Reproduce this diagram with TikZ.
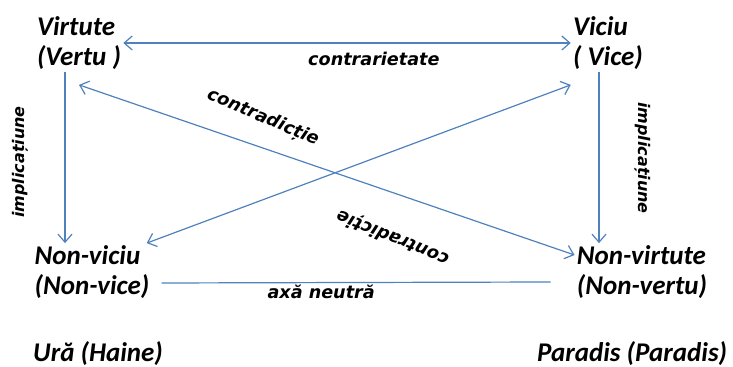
\documentclass[tikz,border=0pt]{standalone}
\usepackage{fontspec}
\setmainfont{Carlito}
\newfontfamily\relfont{DejaVu Sans}[ItalicFont=DejaVu Sans Oblique, BoldItalicFont=DejaVu Sans Bold Oblique]
\usetikzlibrary{arrows.meta}
\definecolor{lineblue}{RGB}{79,129,189}
\tikzset{
    term/.style={font=\fontsize{13.5}{15}\selectfont\bfseries\itshape, align=left, inner sep=1pt},
    rel/.style={font=\relfont\fontsize{8.8}{10}\selectfont\bfseries\itshape, inner sep=1pt},
    link/.style={draw=lineblue, line width=0.6pt},
    tip/.style={-{Straight Barb[length=4pt,width=7pt]}},
    twotips/.style={{Straight Barb[length=4pt,width=7pt]}-{Straight Barb[length=4pt,width=7pt]}}
}

\begin{document}
\begin{tikzpicture}[x=0.5pt, y=-0.5pt]
    \useasboundingbox (0,0) rectangle (733,367);

    % the four terms of the square
    \node[term] (virtute)    at (79,43)   {Virtute\\ (Vertu )};
    \node[term] (viciu)      at (608,43)  {Viciu\\( Vice)};
    \node[term] (nonviciu)   at (92,272)  {Non-viciu\\(Non-vice)};
    \node[term] (nonvirtute) at (642,272) {Non-virtute\\(Non-vertu)};

    \node[term] (ura)     at (98,354)  {Ură (Haine)};
    \node[term] (paradis) at (632,354) {Paradis (Paradis)};

    % relations
    \draw[link, twotips] (virtute.east) -- (viciu.west)
        node[rel, pos=0.56, below=3.5pt] (contrar) {contrarietate};
    \draw[link, tip] ([xshift=-7pt]virtute.south) -- ([xshift=-13.5pt]nonviciu.north);
    \draw[link, tip] ([xshift=-4.5pt]viciu.south) -- ([xshift=-21.5pt]nonvirtute.north);
    \draw[link, twotips] ([yshift=-6.5pt]virtute.south) -- ([yshift=8.5pt]nonvirtute.west);
    \draw[link, twotips] ([xshift=-2.5pt]nonviciu.north east) -- ([yshift=-6.5pt]viciu.south west);
    \draw[link] ([shift={(5pt,-5.5pt)}]nonviciu.east) -- ([shift={(-12pt,-5pt)}]nonvirtute.west)
        node[rel, pos=0.41, below=0pt] (neutra) {axă neutră};

    \node[rel, rotate=90, font=\relfont\fontsize{8}{10}\selectfont\bfseries\itshape]
        (implst) at (20,162) {implicațiune};
    \node[rel, rotate=-90, font=\relfont\fontsize{8}{10}\selectfont\bfseries\itshape]
        (impldr) at (643,158) {implicațiune};
    \node[rel, rotate=-23] (contrsus) at (263,118) {contradicție};
    \node[rel, rotate=158] (contrjos) at (393,237) {contradicție};
\end{tikzpicture}
\end{document}
